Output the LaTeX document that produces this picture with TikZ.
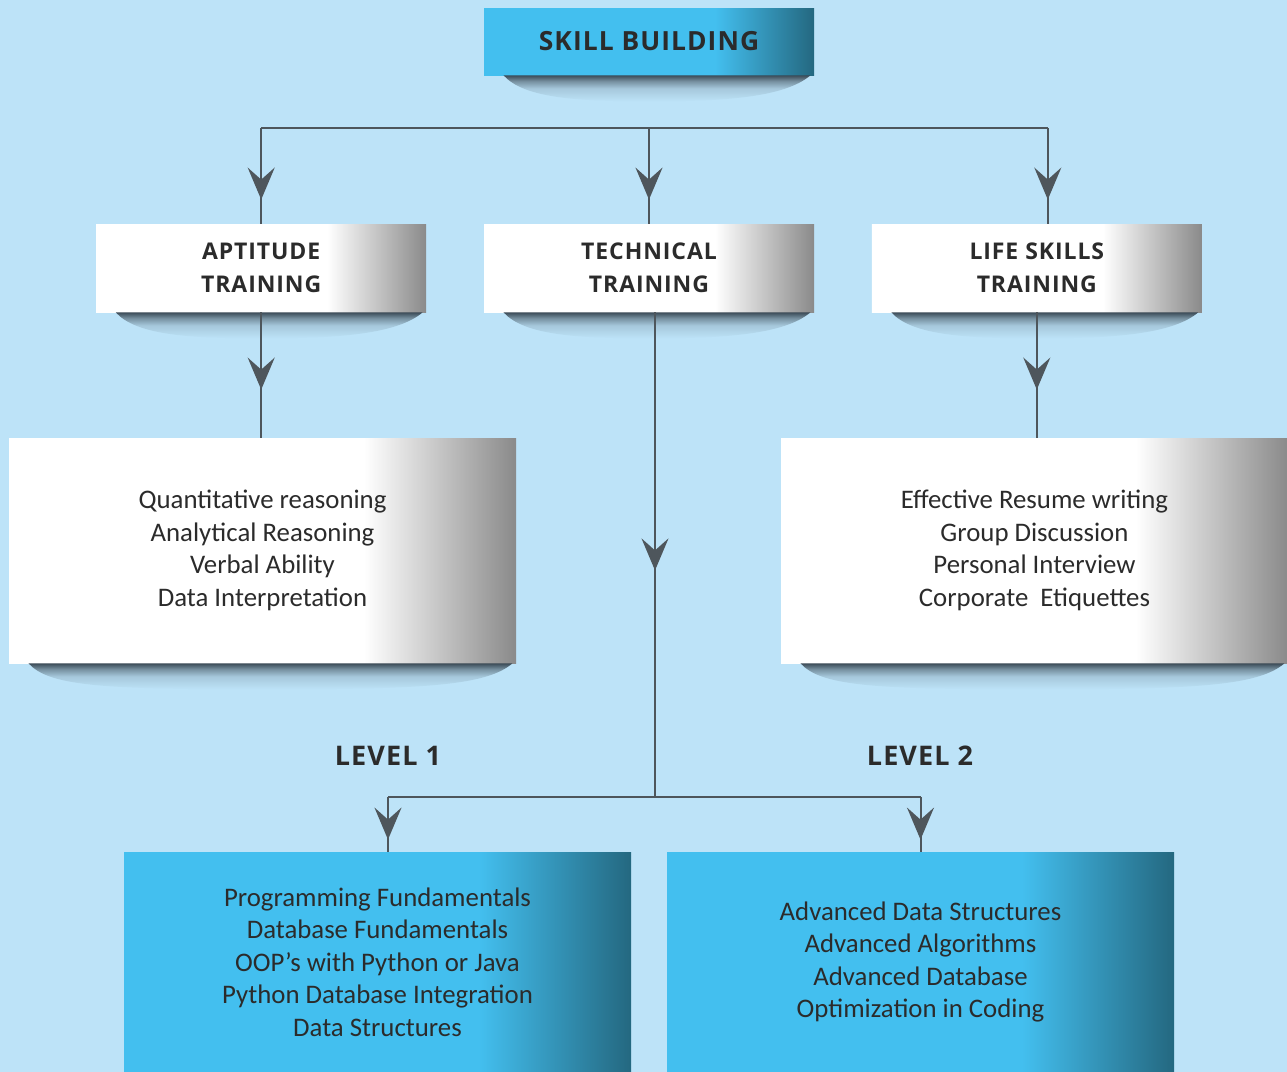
\documentclass[tikz,border=0pt]{standalone}
\usepackage{fontspec}
\setmainfont{Carlito}
\newfontfamily\headfont{Open Sans}[LetterSpace=4]
\usepackage{tikz}
\usetikzlibrary{ arrows.meta, calc, decorations.markings, positioning }

\definecolor{bgblue}{HTML}{BDE3F8}
\definecolor{cyanbox}{HTML}{43BFEF}
\definecolor{tealedge}{HTML}{246880}
\definecolor{greyedge}{HTML}{8A8A8A}
\definecolor{wirec}{HTML}{4E565C}
\definecolor{inkc}{HTML}{2B2B2B}
\definecolor{shadowc}{HTML}{3C4C58}

% white face, grey right edge
\pgfdeclarehorizontalshading{whitefade}{100bp}{color(0bp)=(white); color(25bp)=(white); color(60bp)=(white); color(75bp)=(greyedge); color(100bp)=(greyedge)}
% cyan face, teal right edge
\pgfdeclarehorizontalshading{bluefade}{100bp}{color(0bp)=(cyanbox); color(25bp)=(cyanbox); color(60bp)=(cyanbox); color(75bp)=(tealedge); color(100bp)=(tealedge)}
% drop shadow, dark only near the top
\pgfdeclareverticalshading{dropfade}{100bp}{color(0bp)=(bgblue); color(25bp)=(bgblue); color(50bp)=(shadowc!18!bgblue); color(64bp)=(shadowc!55!bgblue); color(75bp)=(shadowc); color(100bp)=(shadowc)}

\tikzset{
>={Stealth[length=16pt, width=13.5pt, inset=6pt]}, % notched heads
wire/.style={wirec, line width=1pt}, % connector lines
tipat/.style={postaction={decorate}, decoration={markings, mark=at position #1 with {\arrow[wirec]{>}}}},
headtext/.style={font=\headfont\bfseries\fontsize{11.5}{16.5}\selectfont, text=inkc},
bodytext/.style={font=\fontsize{13.4}{16.25}\selectfont, text=inkc},
every node/.style={inner sep=0pt, align=center},
greybox/.style={shading=whitefade, minimum width=165pt, minimum height=44pt, headtext},
listbox/.style={shading=whitefade, minimum width=253.5pt, minimum height=112.5pt, bodytext},
bluebox/.style={shading=bluefade, minimum width=253.5pt, minimum height=110pt, bodytext},
}

\newcommand\boxshade[1]{%
  \shade[shading=dropfade]
    ($(#1.south west)+(20,0)$) -- ($(#1.south east)+(-4,0)$)
    .. controls ($(#1.south east)+(-30,-22)$) and ($(#1.south east)+(-90,-26)$) .. ($(#1.south)+(0,-26)$)
    .. controls ($(#1.south west)+(90,-26)$) and ($(#1.south west)+(40,-22)$) .. cycle;}

\begin{document}
\begin{tikzpicture}[x=0.5pt, y=0.5pt]%one unit is one pixel of the layout
  \fill[bgblue] (0,0) rectangle (1287,-1072);
  \useasboundingbox (0,0) rectangle (1287,-1072);

  \node[shading=bluefade, minimum width=165pt, minimum height=33.5pt, headtext, font=\headfont\bfseries\fontsize{13.2}{17}\selectfont] (sb) at (649,-41.5) {SKILL BUILDING};

  \node[greybox] (tech) at (649,-268) {TECHNICAL\\TRAINING};
  \node[greybox, left=28.5pt of tech] (apt) {APTITUDE\\TRAINING};
  \node[greybox, right=28.5pt of tech] (life) {LIFE SKILLS\\TRAINING};

  \node[listbox] (aptlist) at (262.5,-550.5)
  {Quantitative reasoning\\Analytical Reasoning\\Verbal Ability\\Data Interpretation};
  \node[listbox] (lifelist) at (1034.5,-550.5)
  {Effective Resume writing\\Group Discussion\\Personal Interview\\Corporate\ \ Etiquettes};

  \node[headtext, font=\headfont\bfseries\fontsize{13.5}{16}\selectfont] (lbone) at (388,-756) {LEVEL 1};
  \node[headtext, font=\headfont\bfseries\fontsize{13.5}{16}\selectfont] (lbtwo) at (920,-756) {LEVEL 2};

  \node[bluebox] (lvone) at (377.5,-962)
  {Programming Fundamentals\\Database Fundamentals\\OOP’s with Python or Java\\Python Database Integration\\Data Structures};
  \node[bluebox] (lvtwo) at (920.5,-962)
  {Advanced Data Structures\\Advanced Algorithms\\Advanced Database\\Optimization in Coding};

  \boxshade{sb}
  \boxshade{apt}
  \boxshade{tech}
  \boxshade{life}
  \boxshade{aptlist}
  \boxshade{lifelist}

  \coordinate (bar) at (649,-128);
  \coordinate (lifein) at ($(bar -| life)+(11,0)$);
  \draw[wire] (bar -| apt) -- (lifein);
  \draw[wire, tipat=-12pt] (bar -| apt) -- (apt);
  \draw[wire, tipat=-12pt] (bar) -- (tech);
  \draw[wire, tipat=-12pt] (lifein) -- (lifein |- life.north);

  \draw[wire, tipat=-24pt] (apt.south) -- (apt.south |- aptlist.north);
  \draw[wire, tipat=-24pt] (life.south) -- (life.south |- lifelist.north);

  \coordinate (techout) at ($(tech.south)+(6,0)$);
  \coordinate (fork) at ($(techout)+(0,-485)$);
  \coordinate (forkl) at (fork -| lbone);
  \draw[wire, tipat=-113.5pt] (techout) -- (fork);
  \draw[wire] (forkl) -- (forkl -| lvtwo);
  \draw[wire, tipat=-6pt] (forkl) -- (forkl |- lvone.north);
  \draw[wire, tipat=-6pt] (forkl -| lvtwo) -- (lvtwo);
\end{tikzpicture}
\end{document}
